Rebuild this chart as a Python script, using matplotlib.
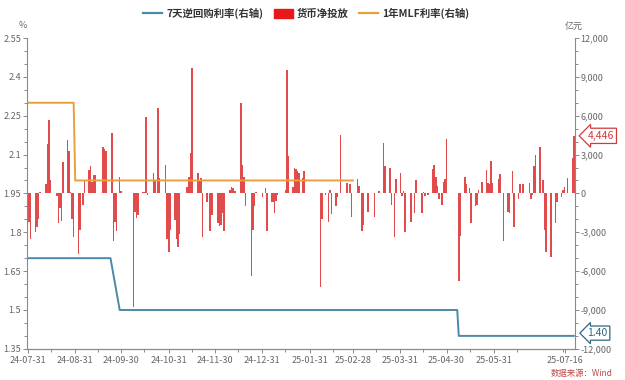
import numpy as np
import pandas as pd
import matplotlib
matplotlib.use("Agg")
import matplotlib.pyplot as plt
import matplotlib.dates as mdates
from matplotlib.lines import Line2D
from matplotlib.patches import Patch
from matplotlib.ticker import FixedLocator, MultipleLocator

plt.rcParams['font.family'] = ['Noto Sans CJK SC', 'DejaVu Sans']

# net money injection (亿元)
inj_dates = [
    "2024-07-31", "2024-08-01", "2024-08-02", "2024-08-05", "2024-08-06", "2024-08-07", "2024-08-08",
    "2024-08-12", "2024-08-13", "2024-08-14", "2024-08-15", "2024-08-19", "2024-08-20", "2024-08-21",
    "2024-08-22", "2024-08-23", "2024-08-26", "2024-08-27", "2024-08-28", "2024-08-29", "2024-08-30",
    "2024-09-02", "2024-09-03", "2024-09-05", "2024-09-06", "2024-09-09", "2024-09-10", "2024-09-11",
    "2024-09-12", "2024-09-13", "2024-09-18", "2024-09-19", "2024-09-20", "2024-09-24", "2024-09-25",
    "2024-09-26", "2024-09-27", "2024-09-29", "2024-09-30", "2024-10-08", "2024-10-09", "2024-10-10",
    "2024-10-11", "2024-10-14", "2024-10-15", "2024-10-16", "2024-10-17", "2024-10-21", "2024-10-22",
    "2024-10-24", "2024-10-25", "2024-10-29", "2024-10-30", "2024-10-31", "2024-11-01", "2024-11-04",
    "2024-11-05", "2024-11-06", "2024-11-07", "2024-11-12", "2024-11-13", "2024-11-14", "2024-11-15",
    "2024-11-19", "2024-11-20", "2024-11-21", "2024-11-22", "2024-11-25", "2024-11-27", "2024-11-28",
    "2024-12-02", "2024-12-03", "2024-12-04", "2024-12-05", "2024-12-06", "2024-12-10", "2024-12-11",
    "2024-12-12", "2024-12-13", "2024-12-17", "2024-12-18", "2024-12-19", "2024-12-20", "2024-12-24",
    "2024-12-25", "2024-12-26", "2024-12-27", "2024-12-31", "2025-01-02", "2025-01-03", "2025-01-06",
    "2025-01-07", "2025-01-08", "2025-01-09", "2025-01-10", "2025-01-15", "2025-01-16", "2025-01-17",
    "2025-01-20", "2025-01-21", "2025-01-22", "2025-01-23", "2025-01-24", "2025-01-26", "2025-01-27",
    "2025-02-07", "2025-02-08", "2025-02-10", "2025-02-12", "2025-02-13", "2025-02-14", "2025-02-17",
    "2025-02-18", "2025-02-20", "2025-02-24", "2025-02-26", "2025-02-27", "2025-03-03", "2025-03-04",
    "2025-03-06", "2025-03-07", "2025-03-10", "2025-03-14", "2025-03-17", "2025-03-20", "2025-03-21",
    "2025-03-24", "2025-03-25", "2025-03-27", "2025-03-28", "2025-03-31", "2025-04-01", "2025-04-02",
    "2025-04-03", "2025-04-07", "2025-04-09", "2025-04-10", "2025-04-14", "2025-04-15", "2025-04-16",
    "2025-04-18", "2025-04-21", "2025-04-22", "2025-04-23", "2025-04-24", "2025-04-25", "2025-04-27",
    "2025-04-28", "2025-04-29", "2025-04-30", "2025-05-08", "2025-05-09", "2025-05-12", "2025-05-13",
    "2025-05-15", "2025-05-16", "2025-05-19", "2025-05-20", "2025-05-21", "2025-05-23", "2025-05-26",
    "2025-05-27", "2025-05-28", "2025-05-29", "2025-05-30", "2025-06-03", "2025-06-04", "2025-06-06",
    "2025-06-09", "2025-06-10", "2025-06-12", "2025-06-13", "2025-06-16", "2025-06-17", "2025-06-19",
    "2025-06-23", "2025-06-24", "2025-06-25", "2025-06-26", "2025-06-27", "2025-06-30", "2025-07-02",
    "2025-07-03", "2025-07-04", "2025-07-07", "2025-07-10", "2025-07-11", "2025-07-14", "2025-07-15",
    "2025-07-16", "2025-07-18", "2025-07-21", "2025-07-22",
]
inj_values = [
    1800, -2200, -3500, -3000, -2600, -2000, 100,
    700, 3800, 5700, 1000, -200, -2250, -1100,
    -2100, 2400, 4150, 3300, 100, -2000, -3400,
    -4700, -2800, -900, 1000, 1800, 2100, 900,
    1400, 1400, 3600, 3400, 3300, 4700, -3700,
    -2200, -2900, 1300, 200, -8800, -1400, -1900,
    -1700, 100, 100, 5900, -100, 1600, 1000,
    6600, 1200, 2200, -3550, -4550, -2800, -2050,
    -3550, -4100, -3100, 500, 1300, 3100, 9700,
    1600, 1000, 1200, -3400, -700, -2900, -1700,
    -2250, -2500, -2400, -1500, -2900, 300, 500,
    400, 200, 7000, 2200, 1300, -1000, -6400,
    -2800, -1000, 100, -300, 400, -2900, -700,
    -700, -1500, -600, -100, 300, 9500, 2900,
    500, 2000, 1900, 1700, 1600, 1200, 1700,
    -7200, -2000, -100, -2200, 300, -1600, -1000,
    -300, 4500, 800, 700, -1800, 1100, 600,
    -2900, -2400, -1400, -1800, 200, 3900, 2100,
    2000, -900, -3400, 1100, 1600, -200, 200,
    -3000, -2200, -1500, 1000, -1500, 100, -200,
    -100, 1900, 2200, 1300, 600, -400, -900,
    900, 1100, 4200, -6800, -3300, 1300, 700,
    400, -2300, -1000, -900, 300, 900, 1800,
    800, 700, 2500, 800, 1100, 1500, -3700,
    -1400, -1500, 1700, -2600, -400, 700, 700,
    800, -400, -100, 2100, 3000, 3600, 1000,
    -2800, -4500, -4900, -2300, -700, -300, 300,
    500, 1200, 2700, 4446,
]

# 7-day reverse repo rate (%)
repo_dates = ["2024-07-31", "2024-09-23", "2024-09-29", "2025-05-07", "2025-05-08", "2025-07-22"]
repo_rate = [1.70, 1.70, 1.50, 1.50, 1.40, 1.40]

# 1-year MLF rate (%)
mlf_dates = ["2024-07-31", "2024-08-30", "2024-08-31", "2025-02-28"]
mlf_rate = [2.30, 2.30, 2.00, 2.00]

tick_dates = ["2024-07-31", "2024-08-31", "2024-09-30", "2024-10-31", "2024-11-30", "2024-12-31",
              "2025-01-31", "2025-02-28", "2025-03-31", "2025-04-30", "2025-05-31", "2025-07-16"]
left_ticks = [1.35, 1.5, 1.65, 1.8, 1.95, 2.1, 2.25, 2.4, 2.55]
right_ticks = [-12000, -9000, -6000, -3000, 0, 3000, 6000, 9000, 12000]

blue = "#4a8aa6"
orange = "#e9a03b"
red = "#e24b4b"
grey = "#8a8a8a"
txt = "#666666"

fig = plt.figure(figsize=(6.25, 3.8), dpi=100)
ax = fig.add_axes([0.043, 0.082, 0.877, 0.818])
ax2 = ax.twinx()

d_inj = pd.to_datetime(inj_dates)
ax2.bar(d_inj, inj_values, width=1.0, color=red, linewidth=0)

ax.plot(pd.to_datetime(repo_dates), repo_rate, color=blue, lw=1.4)
ax.plot(pd.to_datetime(mlf_dates), mlf_rate, color=orange, lw=1.4)

ax.set_zorder(ax2.get_zorder() + 1)
ax.patch.set_visible(False)

ax.set_xlim(pd.Timestamp("2024-07-30 12:00"), pd.Timestamp("2025-07-22 18:00"))
ax.set_ylim(1.35, 2.55)
ax2.set_ylim(-12000, 12000)

ax.yaxis.set_major_locator(FixedLocator(left_ticks))
ax.set_yticklabels(["%g" % v for v in left_ticks])
ax.yaxis.set_minor_locator(MultipleLocator(0.05))
ax2.yaxis.set_major_locator(FixedLocator(right_ticks))
ax2.set_yticklabels(["{:,}".format(v) for v in right_ticks])
ax2.yaxis.set_minor_locator(MultipleLocator(1000))

td = pd.to_datetime(tick_dates)
ax.set_xticks(td)
ax.set_xticklabels([t.strftime("%y-%m-%d") for t in td])
ax.xaxis.set_minor_locator(mdates.DayLocator(bymonthday=15))

for a in (ax, ax2):
    for s in a.spines.values():
        s.set_color(grey)
        s.set_linewidth(0.8)
    a.spines["top"].set_visible(False)
    a.tick_params(which="both", colors=grey, labelcolor=txt, labelsize=6.5, width=0.7)
    a.tick_params(which="major", length=3)
    a.tick_params(which="minor", length=2)
ax.spines["right"].set_visible(False)
ax2.spines["left"].set_visible(False)
ax.tick_params(axis="x", pad=2)
ax.tick_params(axis="y", pad=1)
ax2.tick_params(axis="y", pad=1)

fig.text(0.036, 0.925, "%", fontsize=6.5, color=txt, ha="center")
fig.text(0.918, 0.925, "亿元", fontsize=6.5, color=txt, ha="center")

# value callouts on the right axis
ax2.annotate("4,446", xy=(1.0, inj_values[-1]), xycoords=("axes fraction", "data"),
             xytext=(9, 0), textcoords="offset points", va="center", ha="left",
             fontsize=7.5, color="#d03a3a",
             bbox=dict(boxstyle="larrow,pad=0.25", fc="white", ec="#d03a3a", lw=0.9))
ax.annotate("1.40", xy=(1.0, repo_rate[-1]), xycoords=("axes fraction", "data"),
            xytext=(9, 2), textcoords="offset points", va="center", ha="left",
            fontsize=7.5, color="#2d6a85",
            bbox=dict(boxstyle="larrow,pad=0.2", fc="white", ec="#2d6a85", lw=0.9))

handles = [Line2D([0], [0], color=blue, lw=1.6),
           Patch(color="#e81818"),
           Line2D([0], [0], color=orange, lw=1.6)]
labels = ["7天逆回购利率(右轴)", "货币净投放", "1年MLF利率(右轴)"]
fig.legend(handles, labels, loc="center", bbox_to_anchor=(0.49, 0.965), ncol=3, frameon=False,
           prop={"size": 7.5, "weight": "bold"}, labelcolor="#333333",
           handlelength=1.8, handleheight=0.9, columnspacing=1.0, handletextpad=0.4)

fig.text(0.98, 0.018, "数据来源：Wind", fontsize=6, color="#c04848", ha="right", va="center")

fig.savefig("out.png", dpi=100)
